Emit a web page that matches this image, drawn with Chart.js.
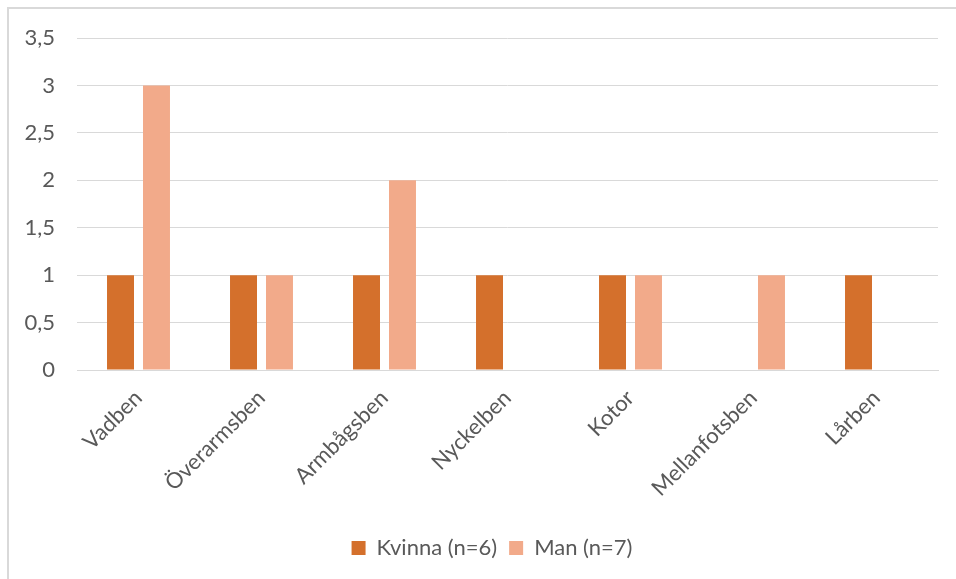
<!DOCTYPE html>
<html>
<head>
<meta charset="utf-8">
<script src="https://cdn.jsdelivr.net/npm/chart.js@4/dist/chart.umd.min.js"></script>
<style>
  html, body { margin: 0; padding: 0; background: #fff; }
  #frame { position: absolute; left: 7px; top: 7px; width: 980px; height: 600px; border: 2px solid #d9d9d9; box-sizing: border-box; }
  #wrap { position: absolute; left: 0; top: 0; width: 956px; height: 579px; }
</style>
</head>
<body>
<div id="frame"></div>
<div id="wrap"><canvas id="c" width="956" height="579"></canvas></div>
<script>
const categories = ["Vadben", "Överarmsben", "Armbågsben", "Nyckelben", "Kotor", "Mellanfotsben", "Lårben"];
const kvinnaValues = [1, 1, 1, 1, 1, 0, 1];
const manValues = [3, 1, 2, 0, 1, 1, 0];
const seriesNames = ["Kvinna (n=6)", "Man (n=7)"];

const FONT = "Lato, 'Open Sans', sans-serif";
const TXT = "#595959";
const FS = 22;

const shiftLegend = {
  id: "shiftLegend",
  afterLayout(chart) {
    const lg = chart.legend;
    if (lg) { lg.left += 23; lg.right += 23; }
  }
};

new Chart(document.getElementById("c"), {
  type: "bar",
  data: {
    labels: categories,
    datasets: [
      { label: seriesNames[0], data: kvinnaValues, backgroundColor: "#D4702C", categoryPercentage: 0.585, barPercentage: 0.75 },
      { label: seriesNames[1], data: manValues, backgroundColor: "#F2AA8A", categoryPercentage: 0.585, barPercentage: 0.75 }
    ]
  },
  plugins: [shiftLegend],
  options: {
    responsive: false,
    animation: false,
    layout: { padding: { top: 38, right: 18, bottom: 10, left: 0 } },
    plugins: {
      tooltip: { enabled: false },
      legend: {
        position: "bottom",
        labels: { font: { family: FONT, size: FS }, color: TXT, boxWidth: 14, boxHeight: 14, padding: 12 }
      }
    },
    scales: {
      x: {
        grid: { display: false, drawTicks: false },
        border: { display: true, color: "#d9d9d9", width: 1 },
        ticks: { font: { family: FONT, size: FS }, color: TXT, minRotation: 45, maxRotation: 45, padding: 15 },
        afterFit: (s) => { s.height = 155; }
      },
      y: {
        min: 0, max: 3.5,
        ticks: {
          stepSize: 0.5,
          font: { family: FONT, size: FS }, color: TXT, padding: 22,
          callback: (v) => String(v).replace(".", ",")
        },
        grid: { color: "#d9d9d9", lineWidth: 1, drawTicks: false },
        border: { display: false },
        afterFit: (s) => { s.width = 77; }
      }
    }
  }
});
</script>
</body>
</html>
